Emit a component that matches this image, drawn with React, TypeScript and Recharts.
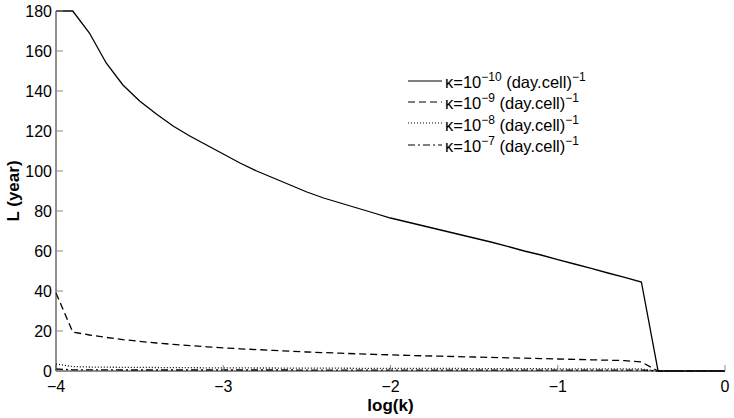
import { LineChart, Line, XAxis, YAxis, Legend } from "recharts";

const logK = [
  -4.0, -3.9, -3.8, -3.7, -3.6, -3.5, -3.4, -3.3, -3.2, -3.1,
  -3.0, -2.9, -2.8, -2.7, -2.6, -2.5, -2.4, -2.3, -2.2, -2.1,
  -2.0, -1.9, -1.8, -1.7, -1.6, -1.5, -1.4, -1.3, -1.2, -1.1,
  -1.0, -0.9, -0.8, -0.7, -0.6, -0.5, -0.4, -0.3, -0.2, -0.1, 0.0,
];

// L (year) for each kappa
const kappa10 = [
  180, 180, 169, 154, 143, 135, 128.5, 122.5, 117.5, 113,
  108.5, 104, 100, 96.5, 93, 89.5, 86.5, 84, 81.5, 79,
  76.5, 74.5, 72.5, 70.5, 68.5, 66.5, 64.5, 62.3, 60, 58,
  55.7, 53.5, 51.3, 49, 46.8, 44.5, 0, 0, 0, 0, 0,
];
const kappa9 = [
  39, 19.5, 18, 16.8, 15.7, 14.8, 14, 13.3, 12.7, 12.1,
  11.6, 11.1, 10.7, 10.3, 9.9, 9.5, 9.2, 8.9, 8.6, 8.3,
  8.1, 7.8, 7.6, 7.4, 7.2, 7, 6.8, 6.6, 6.4, 6.2,
  6, 5.8, 5.6, 5.4, 5.2, 4.5, 0, 0, 0, 0, 0,
];
const kappa8 = [
  3.5, 2.2, 2, 1.9, 1.85, 1.8, 1.75, 1.7, 1.65, 1.6,
  1.6, 1.55, 1.5, 1.5, 1.45, 1.45, 1.4, 1.4, 1.35, 1.35,
  1.3, 1.3, 1.3, 1.25, 1.25, 1.2, 1.2, 1.2, 1.15, 1.15,
  1.1, 1.1, 1.1, 1.05, 1.05, 1, 0, 0, 0, 0, 0,
];
const kappa7 = [
  1, 0.6, 0.55, 0.55, 0.5, 0.5, 0.5, 0.5, 0.5, 0.5,
  0.5, 0.5, 0.5, 0.5, 0.5, 0.45, 0.45, 0.45, 0.45, 0.45,
  0.45, 0.45, 0.45, 0.45, 0.45, 0.4, 0.4, 0.4, 0.4, 0.4,
  0.4, 0.4, 0.4, 0.4, 0.4, 0.4, 0, 0, 0, 0, 0,
];

const xTicks = [-4, -3, -2, -1, 0];
const yTicks = [0, 20, 40, 60, 80, 100, 120, 140, 160, 180];

const series = [
  { key: "k10", exp: "−10", dash: undefined as string | undefined },
  { key: "k9", exp: "−9", dash: "7 4" },
  { key: "k8", exp: "−8", dash: "1 2" },
  { key: "k7", exp: "−7", dash: "7 3 2 3" },
];

const data = logK.map((x, i) => ({
  x,
  k10: kappa10[i],
  k9: kappa9[i],
  k8: kappa8[i],
  k7: kappa7[i],
}));

const FONT = "'Liberation Sans', Arial, Helvetica, sans-serif";
const fmt = (v: number) => (v < 0 ? `\u2212${Math.abs(v)}` : `${v}`);

function LegendBox() {
  return (
    <div style={{ fontFamily: FONT, fontSize: 16.5, color: "#000", textAlign: "left" }}>
      {series.map((s) => (
        <div key={s.key} style={{ display: "flex", alignItems: "center", height: 21.3 }}>
          <svg width={34} height={10} style={{ marginRight: 3, flex: "none" }}>
            <line x1={0} y1={5} x2={34} y2={5} stroke="#000" strokeWidth={1.2} strokeDasharray={s.dash} />
          </svg>
          <span style={{ whiteSpace: "nowrap" }}>
            κ=10<sup style={{ fontSize: 12 }}>{s.exp}</sup> (day.cell)<sup style={{ fontSize: 12 }}>−1</sup>
          </span>
        </div>
      ))}
    </div>
  );
}

export default function App() {
  return (
    <div style={{ position: "absolute", left: 0, top: 0, background: "#fff" }}>
      <LineChart
        width={734}
        height={418}
        data={data}
        margin={{ top: 11, right: 9, left: 0, bottom: 0 }}
        style={{ fontFamily: FONT }}
      >
        <XAxis
          dataKey="x"
          type="number"
          domain={[-4, 0]}
          ticks={xTicks}
          tickFormatter={fmt}
          height={47}
          tickSize={-6}
          tickMargin={16}
          stroke="#222"
          tick={{ fill: "#000", fontSize: 16 }}
          tickLine={{ stroke: "#888" }}
          label={{ value: "log(k)", position: "insideBottom", offset: 7, fill: "#000", fontSize: 17, fontWeight: "bold" }}
        />
        <YAxis
          type="number"
          domain={[0, 180]}
          ticks={yTicks}
          width={56}
          tickSize={-7}
          tickMargin={11}
          stroke="#222"
          tick={{ fill: "#000", fontSize: 16 }}
          tickLine={{ stroke: "#888" }}
          label={{ value: "L (year)", angle: -90, position: "insideLeft", offset: 13, fill: "#000", fontSize: 17, fontWeight: "bold", style: { textAnchor: "middle" } }}
        />
        <Legend
          layout="vertical"
          verticalAlign="middle"
          align="center"
          content={() => <LegendBox />}
          wrapperStyle={{ left: 408, top: 70, width: 220 }}
        />
        {series.map((s) => (
          <Line
            key={s.key}
            dataKey={s.key}
            type="linear"
            stroke="#000"
            strokeWidth={1.3}
            strokeDasharray={s.dash}
            dot={false}
            isAnimationActive={false}
          />
        ))}
      </LineChart>
    </div>
  );
}
